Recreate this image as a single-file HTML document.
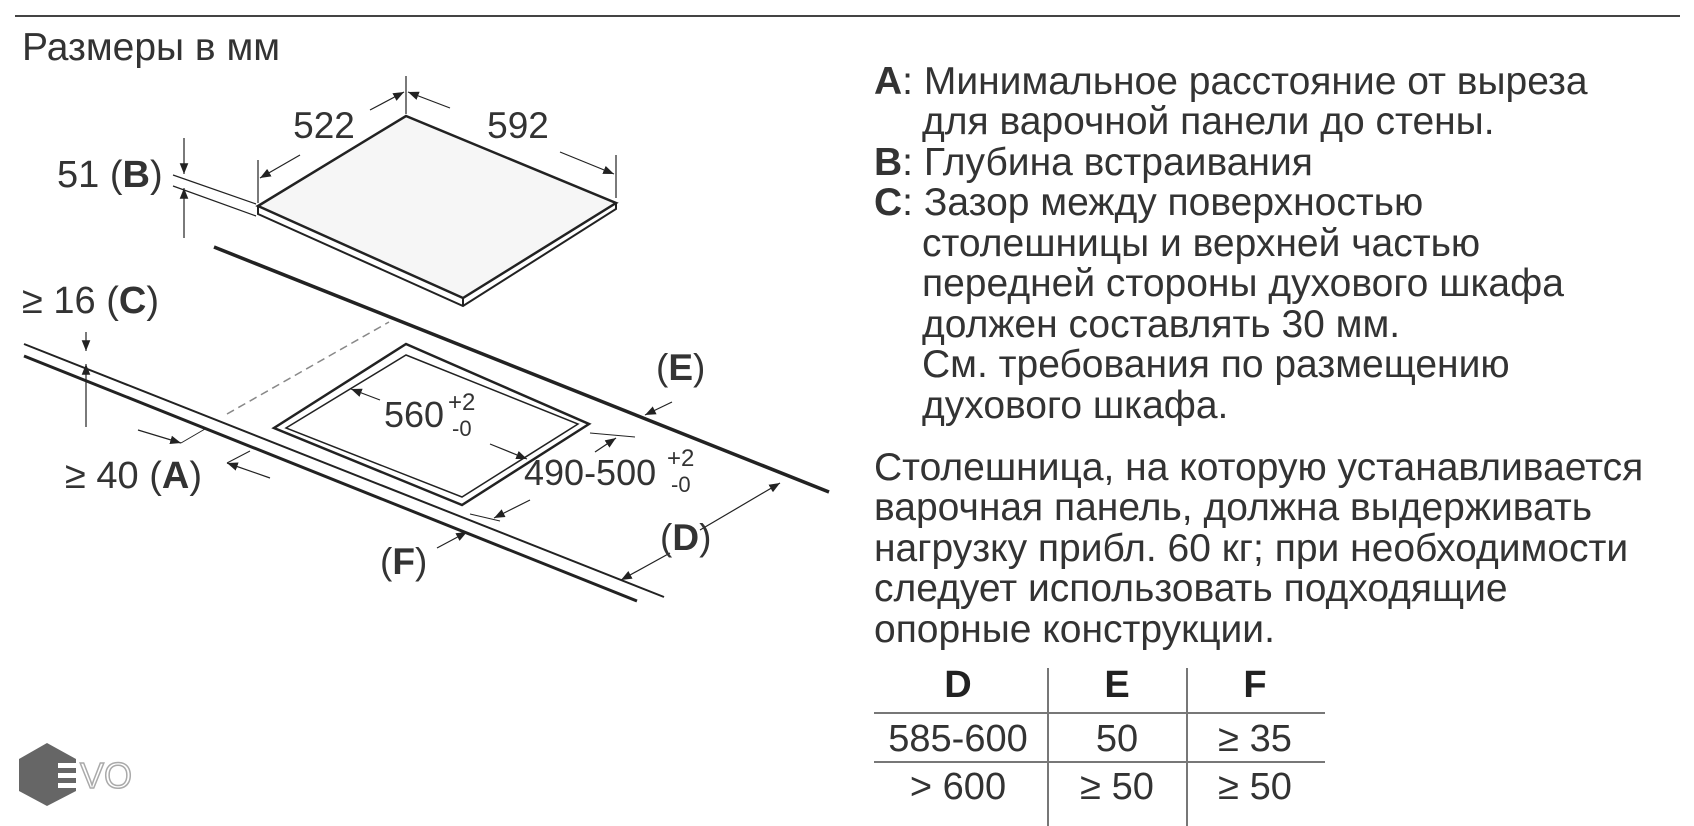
<!DOCTYPE html>
<html><head><meta charset="utf-8"><style>
html,body{margin:0;padding:0;background:#fff;}
svg{display:block;}
text{font-family:"Liberation Sans",Arial,sans-serif;fill:#333;}
</style></head><body>
<svg width="1694" height="826" viewBox="0 0 1694 826" xmlns="http://www.w3.org/2000/svg">
<defs>
<marker id="ar" viewBox="0 0 10 10" refX="10" refY="5" markerWidth="9" markerHeight="9" orient="auto-start-reverse"><path d="M0,1 L10,5 L0,9 z" fill="#222"/></marker>
</defs>
<line x1="15" y1="16" x2="1680" y2="16" stroke="#444" stroke-width="2"/>
<text x="22" y="60" font-size="39">Размеры в мм</text>

<g stroke="#222" fill="none">
<polygon points="406,116 616,203 463,298 258,206" stroke-width="2.5" fill="#f6f6f6"/>
<polyline points="258,206 258,214 463,306 616,209 616,203" stroke-width="2"/>
<line x1="463" y1="298" x2="463" y2="306" stroke-width="2"/>
<line x1="406" y1="76" x2="406" y2="114" stroke-width="1.2"/>
<line x1="258" y1="160" x2="258" y2="203" stroke-width="1.2"/>
<line x1="616" y1="155" x2="616" y2="198" stroke-width="1.2"/>
<line x1="300" y1="155" x2="260" y2="178" stroke-width="1.2" marker-end="url(#ar)"/>
<line x1="370" y1="110" x2="404" y2="92" stroke-width="1.2" marker-end="url(#ar)"/>
<line x1="450" y1="108" x2="408" y2="92" stroke-width="1.2" marker-end="url(#ar)"/>
<line x1="560" y1="152" x2="614" y2="174" stroke-width="1.2" marker-end="url(#ar)"/>
<line x1="173" y1="175" x2="256" y2="204" stroke-width="1.2"/>
<line x1="173" y1="186" x2="256" y2="216" stroke-width="1.2"/>
<line x1="184" y1="138" x2="184" y2="174" stroke-width="1.2" marker-end="url(#ar)"/>
<line x1="184" y1="238" x2="184" y2="188" stroke-width="1.2" marker-end="url(#ar)"/>
<line x1="214" y1="247" x2="829" y2="492" stroke-width="3.5"/>
<line x1="24" y1="344" x2="664" y2="597" stroke-width="2"/>
<line x1="24" y1="356" x2="637" y2="601" stroke-width="3"/>
<line x1="86" y1="332" x2="86" y2="351" stroke-width="1.2" marker-end="url(#ar)"/>
<line x1="86" y1="427" x2="86" y2="364" stroke-width="1.2" marker-end="url(#ar)"/>
<polygon points="406,344 589,424 462,505 274,428" stroke-width="2.5"/>
<polygon points="406,355 578,424 462,497 286,428" stroke-width="1.5"/>
<line x1="227" y1="414" x2="389" y2="322" stroke="#888" stroke-width="1.5" stroke-dasharray="8,5"/>
<line x1="380" y1="400" x2="351" y2="389" stroke-width="1.2" marker-end="url(#ar)"/>
<line x1="490" y1="444" x2="527" y2="459" stroke-width="1.2" marker-end="url(#ar)"/>
<line x1="590" y1="433" x2="635" y2="437" stroke-width="1"/>
<line x1="595" y1="452" x2="616" y2="438" stroke-width="1.2" marker-end="url(#ar)"/>
<line x1="470" y1="514" x2="500" y2="521" stroke-width="1"/>
<line x1="530" y1="500" x2="494" y2="518" stroke-width="1.2" marker-end="url(#ar)"/>
<line x1="138" y1="430" x2="181" y2="443" stroke-width="1.2" marker-end="url(#ar)"/>
<line x1="270" y1="478" x2="227" y2="463" stroke-width="1.2" marker-end="url(#ar)"/>
<line x1="181" y1="443" x2="205" y2="429" stroke-width="1"/>
<line x1="227" y1="463" x2="250" y2="451" stroke-width="1"/>
<line x1="672" y1="402" x2="645" y2="415" stroke-width="1.2" marker-end="url(#ar)"/>
<line x1="700" y1="530" x2="780" y2="483" stroke-width="1.2" marker-end="url(#ar)"/>
<line x1="670" y1="553" x2="621" y2="580" stroke-width="1.2" marker-end="url(#ar)"/>
<line x1="437" y1="548" x2="467" y2="532" stroke-width="1.2" marker-end="url(#ar)"/>
</g>

<text x="324" y="138" font-size="37" text-anchor="middle">522</text>
<text x="518" y="138" font-size="37" text-anchor="middle">592</text>
<text x="57" y="187" font-size="38">51 (<tspan font-weight="bold">B</tspan>)</text>
<text x="22" y="313" font-size="38">≥ 16 (<tspan font-weight="bold">C</tspan>)</text>
<text x="384" y="427" font-size="36">560</text>
<text x="448" y="410" font-size="24">+2</text>
<text x="452" y="436" font-size="22">-0</text>
<text x="524" y="485" font-size="36">490-500</text>
<text x="667" y="466" font-size="24">+2</text>
<text x="671" y="492" font-size="22">-0</text>
<text x="65" y="488" font-size="38">≥ 40 (<tspan font-weight="bold">A</tspan>)</text>
<text x="656" y="380" font-size="37">(<tspan font-weight="bold">E</tspan>)</text>
<text x="660" y="550" font-size="37">(<tspan font-weight="bold">D</tspan>)</text>
<text x="380" y="574" font-size="37">(<tspan font-weight="bold">F</tspan>)</text>

<polygon points="47,743 76,759 76,791 47,806 19,791 19,759" fill="#666"/>
<rect x="58" y="763" width="18" height="5" fill="#fff"/>
<rect x="58" y="773" width="18" height="5" fill="#fff"/>
<rect x="58" y="783" width="18" height="5" fill="#fff"/>
<text x="80" y="788" font-size="36" stroke="#aaa" stroke-width="1.5" style="fill:none">VO</text>

<g font-size="39">
<text x="874" y="94"><tspan font-weight="bold">A</tspan>: Минимальное расстояние от выреза</text>
<text x="922" y="134">для варочной панели до стены.</text>
<text x="874" y="175"><tspan font-weight="bold">B</tspan>: Глубина встраивания</text>
<text x="874" y="215"><tspan font-weight="bold">C</tspan>: Зазор между поверхностью</text>
<text x="922" y="256">столешницы и верхней частью</text>
<text x="922" y="296">передней стороны духового шкафа</text>
<text x="922" y="337">должен составлять 30 мм.</text>
<text x="922" y="377">См. требования по размещению</text>
<text x="922" y="418">духового шкафа.</text>
<text x="874" y="480">Столешница, на которую устанавливается</text>
<text x="874" y="520">варочная панель, должна выдерживать</text>
<text x="874" y="561">нагрузку прибл. 60 кг; при необходимости</text>
<text x="874" y="601">следует использовать подходящие</text>
<text x="874" y="642">опорные конструкции.</text>
</g>
<g stroke="#777" stroke-width="2">
<line x1="874" y1="713" x2="1325" y2="713"/>
<line x1="874" y1="762" x2="1325" y2="762"/>
<line x1="1048" y1="668" x2="1048" y2="826"/>
<line x1="1187" y1="668" x2="1187" y2="826"/>
</g>
<g font-size="38" text-anchor="middle">
<text x="958" y="697" font-weight="bold" style="fill:#222">D</text>
<text x="1117" y="697" font-weight="bold" style="fill:#222">E</text>
<text x="1255" y="697" font-weight="bold" style="fill:#222">F</text>
<text x="958" y="751">585-600</text>
<text x="1117" y="751">50</text>
<text x="1255" y="751">≥ 35</text>
<text x="958" y="799">&gt; 600</text>
<text x="1117" y="799">≥ 50</text>
<text x="1255" y="799">≥ 50</text>
</g>
</svg>
</body></html>
